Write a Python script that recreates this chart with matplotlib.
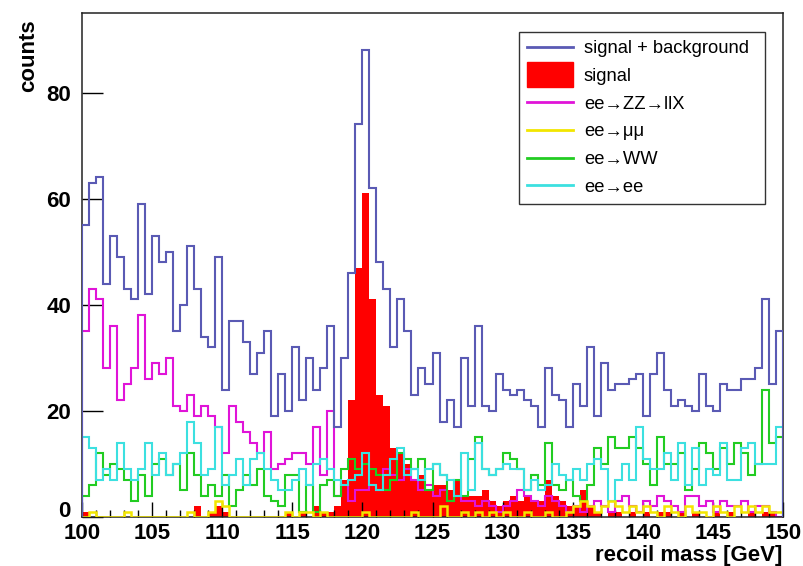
import matplotlib
matplotlib.use('Agg')
import matplotlib.pyplot as plt
import numpy as np
from matplotlib import font_manager
from matplotlib.ticker import MultipleLocator, FuncFormatter
from matplotlib.lines import Line2D
from matplotlib.patches import Patch, Rectangle
from matplotlib.legend_handler import HandlerPatch

# recoil mass histogram, 100 bins of 0.5 GeV from 100 to 150
edges = np.linspace(100, 150, 101)

total = [55, 63, 64, 44, 53, 49, 43, 41, 59, 42, 53, 48, 50, 35, 40, 51, 43, 34, 32,
         49,
         24, 37, 37, 33, 27, 31, 35, 19, 27, 20, 32, 22, 30, 24, 28, 36, 17, 30, 46, 74,
         88,
         62, 48, 43, 32, 41, 35, 23, 28, 25, 31, 18, 22, 17, 30, 21, 36, 21, 20, 27, 24,
         23, 24, 22, 21, 17,
         28, 23, 22, 17, 25, 21, 32, 19, 29, 24, 25, 25, 26, 27, 19,
         27, 31, 24, 21, 22, 21, 20, 27, 21, 20, 25, 24, 24, 26, 26, 28, 41, 25, 35]

signal = [1, 0, 0, 0, 0, 0, 0, 0, 0, 0, 0, 0, 0, 0, 0, 0, 2, 0, 1, 2,
          1, 0, 0, 0, 0, 0, 0, 0, 0, 1, 0, 1, 0, 2, 1, 1, 2, 7, 22, 47,
          61, 41, 23, 21, 13, 12, 10, 7, 8, 5, 6, 6, 5, 7, 4, 4, 4, 5, 3, 2,
          3, 4, 3, 4, 3, 3, 7, 4, 3, 2, 2, 5, 2, 1, 0, 1, 1, 0, 1, 0,
          1, 0, 1, 1, 0, 1, 0, 1, 0, 0, 1, 0, 1, 0, 0, 1, 0, 1, 1, 0]

zz = [35, 43, 41, 28, 36, 22, 25, 28, 38, 26, 29, 27, 30, 21, 20, 23, 19,
      21, 19, 17, 12, 21, 18, 16,
      14, 12, 16, 9, 10, 11, 12, 12, 10, 17, 8, 20, 4, 6, 3, 5, 5,
      6, 5, 9, 8, 7, 9, 7, 5, 6, 4, 5, 3, 4, 3, 3, 2, 3, 2, 1, 2,
      3, 5, 4, 3, 2, 4, 3, 2, 1, 2, 1, 2, 3, 2, 1, 3, 4, 2, 1, 3,
      2, 4, 3, 2, 1, 4, 4, 2, 3, 1, 3, 2, 2, 3, 1, 2, 2, 1, 0]

mumu = [0, 1, 0, 0, 0, 0, 1, 0, 0, 0, 0, 0, 0, 0, 0, 1, 0, 0, 1, 3,
        2, 0, 0, 0, 0, 0, 0, 0, 0, 1, 0, 1, 1, 0, 1, 0, 0, 0, 0, 0,
        1, 0, 0, 0, 0, 0, 0, 1, 0, 0, 0, 2, 0, 0, 1, 0, 1, 0, 1, 0,
        1, 0, 0, 1, 0, 0, 1, 0, 0, 1, 2, 3, 2, 1, 2, 3, 2, 1, 2, 1,
        2, 1, 0, 2, 1, 0, 2, 1, 1, 0, 2, 1, 0, 2, 1, 2, 1, 2, 1, 1]

ww = [4, 6, 12, 8, 10, 9, 7, 3, 8, 4, 10, 11, 8, 10, 5, 12,
      8, 4, 6, 4, 8, 2, 5, 8, 6, 9, 4, 3, 2, 8, 8, 1, 6, 1,
      6, 7, 4, 9, 11, 9, 10, 9, 8, 5, 7, 12, 11, 9, 11,
      5, 10, 8, 3, 7, 4, 11, 15, 9, 8, 9, 12, 11, 9, 5, 8, 6,
      14, 6, 5, 7, 4, 3, 6, 13, 10, 15, 13, 13, 15, 13, 10,
      6, 15, 10, 10, 12, 5, 9, 14, 12, 9, 13, 10, 14, 12, 8, 10,
      24, 14, 15]

ee = [15, 13, 7, 9, 7, 14, 9, 7, 9, 14, 8, 12, 8, 10, 12, 18, 14, 8, 9,
      17, 6, 8, 11, 6, 11, 12, 9, 7, 5, 5, 7, 9, 6,
      10, 11, 9, 7, 6, 7, 8, 12, 6, 5, 8, 11, 13, 8, 9, 7,
      9, 10, 8, 7, 4, 12, 5, 14, 9, 8, 9, 10, 9, 9, 5, 7, 5, 6, 10, 8,
      7, 9, 7, 10, 11, 9, 3, 7, 10, 7, 17, 11, 9, 9, 12, 7, 14, 6, 13, 6,
      9, 8, 14, 7, 7, 13, 14, 10, 10, 10, 17]

labels = ['signal + background', 'signal', 'ee\u2192ZZ\u2192llX',
          'ee\u2192\u03bc\u03bc', 'ee\u2192WW', 'ee\u2192ee']

c_total = '#5a5ab4'
c_signal = '#ff0000'
c_zz = '#e014d8'
c_mumu = '#f2e600'
c_ww = '#22cc22'
c_ee = '#3ce0e0'

axis_font = dict(family='Liberation Sans', weight='bold', size=16)

fig = plt.figure(figsize=(8.04, 5.66), dpi=100)
ax = fig.add_axes([82/804, 1 - 517/566, 701/804, 504/566])

ax.stairs(signal, edges, fill=True, color=c_signal, lw=0, zorder=1)
ax.stairs(zz, edges, color=c_zz, lw=1.5, zorder=2)
ax.stairs(ww, edges, color=c_ww, lw=1.5, zorder=2)
ax.stairs(ee, edges, color=c_ee, lw=1.5, zorder=2)
ax.stairs(mumu, edges, color=c_mumu, lw=1.8, zorder=3)
ax.stairs(total, edges, color=c_total, lw=1.5, zorder=4)

ax.set_xlim(100, 150)
ax.set_ylim(0, 95)
ax.xaxis.set_major_locator(MultipleLocator(5))
ax.xaxis.set_minor_locator(MultipleLocator(1))
ax.yaxis.set_major_locator(MultipleLocator(20))
# the "0" is drawn by hand a bit higher so it clears the "100" below it
ax.yaxis.set_major_formatter(FuncFormatter(lambda v, p: '' if v == 0 else f'{v:.0f}'))
ax.tick_params(axis='x', which='major', direction='in', length=10.5, width=1, pad=4)
ax.tick_params(axis='x', which='minor', direction='in', length=5.2, width=1)
ax.tick_params(axis='y', which='major', direction='in', length=15, width=1, pad=8)
for lab in ax.get_xticklabels() + ax.get_yticklabels():
    lab.set_fontproperties(font_manager.FontProperties(**axis_font))
for sp in ax.spines.values():
    sp.set_linewidth(1.1)
    sp.set_color('#222222')

ax.annotate('0', xy=(0, 0), xycoords='axes fraction', xytext=(-8, 4),
            textcoords='offset points', ha='right', va='center', **axis_font)

fig.text(782/804, 5/566, 'recoil mass [GeV]', ha='right', va='baseline', **axis_font)
fig.text(29/804, 1 - 19/566, 'counts', rotation=90, ha='center', va='top', **axis_font)


def tall_box(legend, orig_handle, xdescent, ydescent, width, height, fontsize):
    return Rectangle((-xdescent, -ydescent - 0.45 * height), width, 1.9 * height)


handles = [Line2D([], [], color=c_total, lw=2),
           Patch(facecolor=c_signal, edgecolor=c_signal),
           Line2D([], [], color=c_zz, lw=2),
           Line2D([], [], color=c_mumu, lw=2),
           Line2D([], [], color=c_ww, lw=2),
           Line2D([], [], color=c_ee, lw=2)]
leg = ax.legend(handles, labels, loc='upper left', mode='expand',
                bbox_to_anchor=(0.623, 0.962 - 0.33, 0.352, 0.33),
                prop=dict(family='Liberation Sans', size=13.2), frameon=True,
                fancybox=False, edgecolor='#333333', framealpha=1,
                handlelength=2.5, handletextpad=0.6, labelspacing=0.58,
                borderpad=0.45, borderaxespad=0,
                handler_map={Patch: HandlerPatch(patch_func=tall_box)})
leg.get_frame().set_linewidth(1.0)
leg.set_zorder(10)

fig.savefig('out.png', dpi=100)
